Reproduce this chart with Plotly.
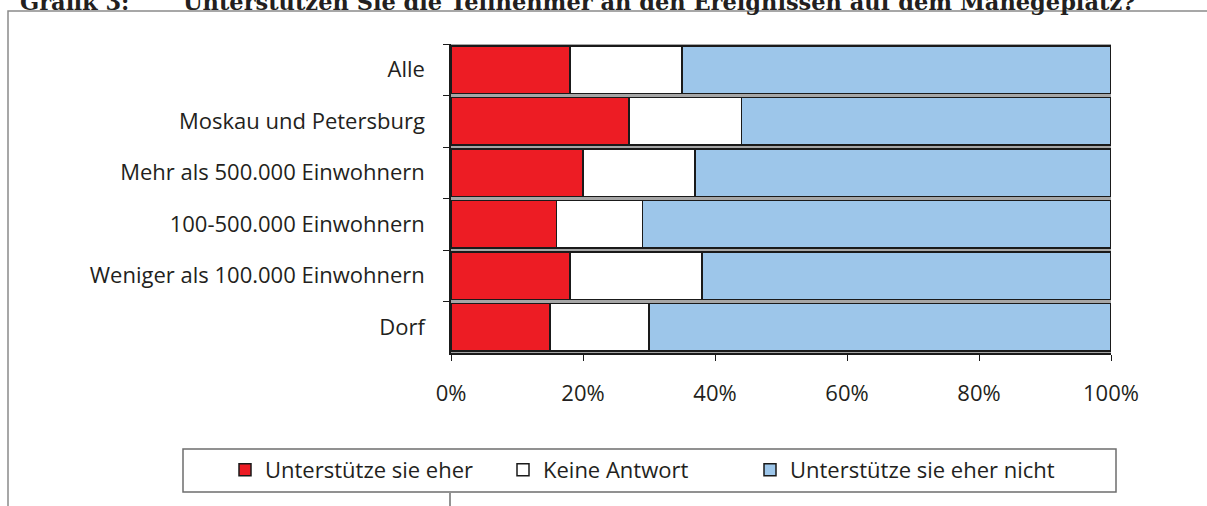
import plotly.graph_objects as go

# ---- data ----
categories = ["Alle", "Moskau und Petersburg", "Mehr als 500.000 Einwohnern",
              "100-500.000 Einwohnern", "Weniger als 100.000 Einwohnern", "Dorf"]
unterstuetze = [18, 27, 20, 16, 18, 15]
keine_antwort = [17, 17, 17, 13, 20, 15]
nicht = [65, 56, 63, 71, 62, 70]
series_names = ["Unterstütze sie eher", "Keine Antwort", "Unterstütze sie eher nicht"]
tick_vals = [0, 20, 40, 60, 80, 100]
tick_text = ["0%", "20%", "40%", "60%", "80%", "100%"]
title_label = "Grafik 3:"
title_text = "Unterstützen Sie die Teilnehmer an den Ereignissen auf dem Manegeplatz?"

# ---- layout geometry ----
W, H = 1207, 506
L, R, T, B = 451, 96, 44, 153
PW, PH = W - L - R, H - T - B

def px(x):
    return (x - L) / PW

def py(y):
    return (H - B - y) / PH

TXT = "#231F20"
FONT = "Open Sans"

fig = go.Figure()
colors = ["#ED1C24", "#FFFFFF", "#9DC6EA"]
legend_ids = ["legend", "legend2", "legend3"]
legend_x = [225, 503, 750]
for name, vals, col, lid in zip(series_names, [unterstuetze, keine_antwort, nicht], colors, legend_ids):
    fig.add_trace(go.Bar(
        y=categories, x=vals, name=name, orientation="h",
        marker=dict(color=col, line=dict(color="#1a1a1a", width=1.5)),
        hoverinfo="skip", legend=lid,
    ))

shapes = [
    # outer frame
    dict(type="rect", xref="paper", yref="paper",
         x0=px(8), x1=px(1230), y0=py(11), y1=py(530),
         line=dict(color="#8a8a8a", width=1.5), fillcolor="rgba(0,0,0,0)", layer="below"),
    # legend box
    dict(type="rect", xref="paper", yref="paper",
         x0=px(183), x1=px(1116), y0=py(449), y1=py(492),
         line=dict(color="#6e6e6e", width=1.5), fillcolor="rgba(0,0,0,0)"),
    # small line at bottom
    dict(type="line", xref="paper", yref="paper",
         x0=px(450), x1=px(450), y0=py(493), y1=py(510),
         line=dict(color="#6e6e6e", width=1.5)),
]

title_font = dict(family="DejaVu Serif", size=22.5, color=TXT)

legend_common = dict(
    orientation="h", xanchor="left", y=py(470), yanchor="middle",
    bgcolor="rgba(0,0,0,0)", borderwidth=0,
    font=dict(family=FONT, size=22, color=TXT),
)

fig.update_layout(
    width=W, height=H,
    margin=dict(l=L, r=R, t=T, b=B, pad=0),
    paper_bgcolor="white",
    plot_bgcolor="#a6a6a6",
    barmode="stack",
    bargap=0.07,
    font=dict(family=FONT, size=22, color=TXT),
    showlegend=True,
    legend=dict(x=px(legend_x[0]), **legend_common),
    legend2=dict(x=px(legend_x[1]), **legend_common),
    legend3=dict(x=px(legend_x[2]), **legend_common),
    shapes=shapes,
    annotations=[
        dict(text="<b>" + title_label + "</b>", xref="paper", yref="paper",
             x=px(18), y=py(2.5), xanchor="left", yanchor="middle", showarrow=False,
             font=title_font),
        dict(text="<b>" + title_text + "</b>", xref="paper", yref="paper",
             x=px(181), y=py(2.5), xanchor="left", yanchor="middle", showarrow=False,
             font=title_font),
    ],
)

fig.update_xaxes(
    range=[0, 100], tickvals=tick_vals, ticktext=tick_text,
    showgrid=False, zeroline=False,
    showline=True, linecolor="#1a1a1a", linewidth=1.5,
    ticks="outside", ticklen=6, tickcolor="#1a1a1a", tickwidth=1.2,
    ticklabelstandoff=14,
    tickfont=dict(family=FONT, size=22, color=TXT),
)
fig.update_yaxes(
    autorange="reversed", tickson="boundaries",
    showgrid=False, zeroline=False,
    showline=True, linecolor="#1a1a1a", linewidth=1.5,
    ticks="outside", ticklen=6, tickcolor="#1a1a1a", tickwidth=1.2,
    ticklabelstandoff=20,
    tickfont=dict(family=FONT, size=22, color=TXT),
)

fig.write_html("out.html", config={"displayModeBar": False},
               post_script="document.body.style.margin='0';")
